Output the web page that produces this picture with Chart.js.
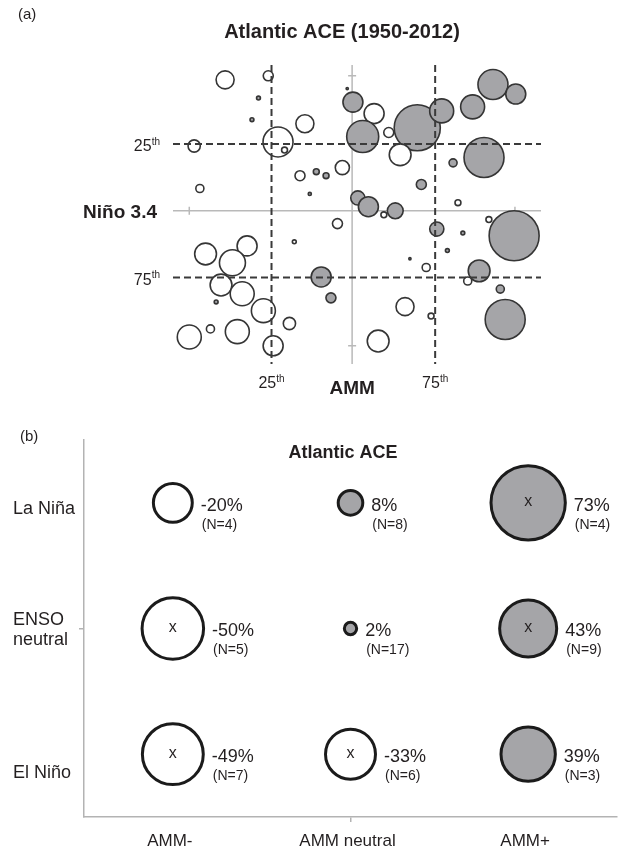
<!DOCTYPE html>
<html>
<head>
<meta charset="utf-8">
<script src="https://cdn.jsdelivr.net/npm/chart.js@4.4.1/dist/chart.umd.min.js"></script>
<style>
  html, body { margin:0; padding:0; background:#fff; }
  body { width:620px; height:853px; position:relative; overflow:hidden; }
  canvas { position:absolute; left:0; }
  #chartA { top:0; }
  #chartB { top:405px; }
</style>
</head>
<body>
<canvas id="chartA" width="620" height="405"></canvas>
<canvas id="chartB" width="620" height="448"></canvas>
<script>
// ============================================================
// (a) AMM vs Nino 3.4, one bubble per season 1950-2012
//     bubble area ~ ACE anomaly (%), grey = above normal
// ============================================================
const ammIdx  = [-1.56,-1.03,-1.15,-1.23,-0.58,-0.91,-0.83,-1.94,-0.64,-0.44,
                 -0.32,-0.12,-0.52,-1.87, 0.01, 0.27, 0.45, 0.13, 0.80, 0.59,
                  1.10, 1.48, 1.73, 2.01, 1.62, 1.24, 1.30, 0.39, 0.53, 0.07,
                  0.20, 0.85,-0.06, 1.68, 1.99, 1.04, 1.36, 1.17, 0.71, 0.91,
                  1.56, 1.42, 1.82, 1.88, 0.65, 0.97, 0.32,-0.18,-0.71,-1.29,
                 -1.80,-1.47,-1.61,-1.35,-0.38,-0.26,-1.67,-1.09,-0.77,-2.00,
                 -1.74,-1.41,-0.97];
const ninoIdx = [-1.94,-2.00,-1.67,-1.35,-1.29,-1.02,-0.90,-0.96,-0.52,-0.58,
                 -0.52,-0.64,-0.25,-0.33,-1.61,-1.44,-1.16,-1.10,-1.23,-0.83,
                 -1.48,-1.54,-1.87,-1.73,-0.79,-0.71,-0.12, 0.06, 0.00,-0.19,
                 -0.06,-0.39,-1.81, 0.13, 0.37, 0.27, 0.33, 0.59, 0.71, 0.84,
                  0.89, 1.04, 1.16, 1.61, 1.42, 1.56, 1.93, 0.19, 0.46, 0.52,
                  0.64, 0.77, 1.10, 1.23, 0.98, 1.29, 1.35, 1.48, 1.67, 1.87,
                  1.75, 1.79, 2.00];
const aceAnom = [-13,-4,0.6,0.6,-13,-36,-1.4,-6,-4,1.4,
                 1.4,-8,0.4,-2.6,16,-16,-4,41,85,-19,
                 23,23,36,16,64,2.6,-1.4,-1.4,10,8,
                 16,4,0.2,-1.4,100,8,0.6,0.6,0.2,-2.6,
                 19,-2.6,2.6,64,-13,-1.4,-19,-4,-0.6,-16,
                 -19,-27,-19,-23,16,4,0.6,-23,-6,-23,
                 -2.6,-23,-16];
const ammPct   = [-0.99, 1.02];     // 25th / 75th percentile of AMM
const ninoPct  = [-0.99, 0.99];     // 25th / 75th percentile of Nino 3.4
const pctNames = ['25', '75'];
const axisTicks = [-2, 2];

// ============================================================
// (b) composite ACE change (%) per AMM / ENSO class
// ============================================================
const ammCats   = ['AMM-', 'AMM neutral', 'AMM+'];
const ensoCats  = ['La Niña', 'ENSO\nneutral', 'El Niño'];
const aceLaNina  = [-20,   8, 73];
const aceNeutral = [-50,   2, 43];
const aceElNino  = [-49, -33, 39];
const nLaNina    = [4,  8, 4];
const nNeutral   = [5, 17, 9];
const nElNino    = [7,  6, 3];
const sigLaNina  = [false, false, true];
const sigNeutral = [true,  false, true];
const sigElNino  = [true,  true,  false];

const FONT = '"Liberation Sans", Arial, Helvetica, sans-serif';
const INK  = '#231f20';
const GREY = '#a5a5a8';

// ── (a) axis limits ───────────────────────────────────────
const xMinA = -2.2, xMaxA = 2.32;
const yMinA = -2.16, yMaxA = 2.27;

function supText(ctx, base, sup, px, py, align, size) {
  ctx.font = size + 'px ' + FONT;
  const w1 = ctx.measureText(base).width;
  ctx.font = Math.round(size * 0.62) + 'px ' + FONT;
  const w2 = ctx.measureText(sup).width;
  let left = px;
  if (align === 'center') left = px - (w1 + w2) / 2;
  if (align === 'right')  left = px - w1 - w2;
  ctx.textAlign = 'left';
  ctx.textBaseline = 'middle';
  ctx.font = size + 'px ' + FONT;
  ctx.fillText(base, left, py);
  ctx.font = Math.round(size * 0.62) + 'px ' + FONT;
  ctx.fillText(sup, left + w1, py - size * 0.32);
}

// grey zero lines with small cross ticks (under the bubbles)
const crossAxes = {
  id: 'crossAxes',
  beforeDatasetsDraw(chart) {
    const { ctx, chartArea: a, scales: { x, y } } = chart;
    const x0 = x.getPixelForValue(0), y0 = y.getPixelForValue(0);
    ctx.save();
    ctx.strokeStyle = '#b9b9b9';
    ctx.lineWidth = 1.5;
    ctx.beginPath();
    ctx.moveTo(a.left, y0); ctx.lineTo(a.right, y0);
    ctx.moveTo(x0, a.top);  ctx.lineTo(x0, a.bottom);
    axisTicks.forEach(t => {
      const px = x.getPixelForValue(t), py = y.getPixelForValue(t);
      ctx.moveTo(px, y0 - 4); ctx.lineTo(px, y0 + 4);
      ctx.moveTo(x0 - 4, py); ctx.lineTo(x0 + 4, py);
    });
    ctx.stroke();
    ctx.restore();
  }
};

const textA = {
  id: 'textA',
  afterDraw(chart) {
    const { ctx, chartArea: a, scales: { x, y } } = chart;
    ctx.save();
    ctx.fillStyle = INK;
    ctx.textAlign = 'left'; ctx.textBaseline = 'middle';
    ctx.font = '15px ' + FONT;
    ctx.fillText('(a)', 18, 15);
    ctx.textAlign = 'center';
    ctx.font = 'bold 20px ' + FONT;
    ctx.fillText('Atlantic ACE (1950-2012)', 342, 32);
    // bottom: AMM percentiles
    ammPct.forEach((v, i) => supText(ctx, pctNames[i], 'th', x.getPixelForValue(v), a.bottom + 20, 'center', 16));
    ctx.textAlign = 'center'; ctx.textBaseline = 'middle';
    ctx.font = 'bold 19px ' + FONT;
    ctx.fillText('AMM', x.getPixelForValue(0), a.bottom + 25);
    // left: Nino 3.4 percentiles
    ninoPct.forEach((v, i) => supText(ctx, pctNames[i], 'th', a.left - 13, y.getPixelForValue(v) + 3, 'right', 16));
    ctx.textAlign = 'right'; ctx.textBaseline = 'middle';
    ctx.font = 'bold 19px ' + FONT;
    ctx.fillText('Niño 3.4', a.left - 16, y.getPixelForValue(0) + 2);
    ctx.restore();
  }
};

const dashLine = (pts) => ({
  type: 'line', data: pts, order: 0,
  borderColor: '#3a3a3a', borderWidth: 2, borderDash: [7, 4],
  pointRadius: 0, fill: false, clip: false
});

new Chart(document.getElementById('chartA'), {
  type: 'bubble',
  data: {
    datasets: [
      {
        order: 1,
        data: ammIdx.map((v, i) => ({ x: v, y: ninoIdx[i], r: 2.5 * Math.sqrt(Math.abs(aceAnom[i])) })),
        backgroundColor: c => aceAnom[c.dataIndex] >= 0 ? GREY : '#ffffff',
        borderColor: '#353535',
        borderWidth: 1.6,
        clip: false
      },
      ...ammPct.map(v => dashLine([{ x: v, y: yMinA }, { x: v, y: yMaxA }])),
      ...ninoPct.map(v => dashLine([{ x: xMinA, y: v }, { x: xMaxA, y: v }]))
    ]
  },
  options: {
    responsive: false, animation: false, events: [],
    layout: { autoPadding: false, padding: { left: 173, right: 79, top: 65, bottom: 41 } },
    plugins: { legend: { display: false }, tooltip: { enabled: false } },
    scales: {
      x: { type: 'linear', display: false, min: xMinA, max: xMaxA },
      y: { type: 'linear', display: false, min: yMinA, max: yMaxA, reverse: true }
    }
  },
  plugins: [crossAxes, textA]
});

// ── (b) composite bubbles ─────────────────────────────────
const rowsAce = [aceLaNina, aceNeutral, aceElNino];
const rowsN   = [nLaNina, nNeutral, nElNino];
const rowsSig = [sigLaNina, sigNeutral, sigElNino];
const cells = [];
rowsAce.forEach((row, ri) => row.forEach((p, ci) => {
  cells.push({ x: ci + 1, y: 3 - ri, pct: p, n: rowsN[ri][ci], sig: rowsSig[ri][ci] });
}));
const rowLabelShift = [6, 2, 19];

const textB = {
  id: 'textB',
  afterDatasetsDraw(chart) {
    const { ctx } = chart;
    const meta = chart.getDatasetMeta(0);
    ctx.save();
    ctx.fillStyle = INK;
    meta.data.forEach((pt, i) => {
      const c = cells[i];
      const edge = pt.x + pt.options.radius + 1.5;
      ctx.textBaseline = 'middle';
      if (c.sig) {
        ctx.textAlign = 'center';
        ctx.font = '16px ' + FONT;
        ctx.fillText('x', pt.x, pt.y - 1);
      }
      ctx.textAlign = 'left';
      ctx.font = '18px ' + FONT;
      ctx.fillText(c.pct + '%', edge + 7, pt.y + 3);
      ctx.font = '14px ' + FONT;
      ctx.fillText('(N=' + c.n + ')', edge + 8, pt.y + 22);
    });
    ctx.restore();
  },
  afterDraw(chart) {
    const { ctx, chartArea: a, scales: { x, y } } = chart;
    ctx.save();
    ctx.fillStyle = INK;
    ctx.textBaseline = 'middle';
    ctx.textAlign = 'left';
    ctx.font = '15px ' + FONT;
    ctx.fillText('(b)', 20, 32);
    ctx.textAlign = 'center';
    ctx.font = 'bold 18px ' + FONT;
    ctx.fillText('Atlantic ACE', 343, 48);
    ctx.font = '17px ' + FONT;
    ammCats.forEach((t, i) => ctx.fillText(t, x.getPixelForValue(i + 1) - 3, a.bottom + 24));
    ctx.textAlign = 'left';
    ctx.font = '18px ' + FONT;
    ensoCats.forEach((t, i) => {
      const lines = t.split('\n');
      const yc = y.getPixelForValue(3 - i) + rowLabelShift[i];
      lines.forEach((ln, k) => ctx.fillText(ln, 13, yc + (k - (lines.length - 1) / 2) * 20));
    });
    ctx.restore();
  }
};

new Chart(document.getElementById('chartB'), {
  type: 'bubble',
  data: {
    datasets: [{
      data: cells.map(c => ({ x: c.x, y: c.y, r: 4.35 * Math.sqrt(Math.abs(c.pct)) })),
      backgroundColor: ctx => cells[ctx.dataIndex].pct >= 0 ? GREY : '#ffffff',
      borderColor: '#1b1b1b',
      borderWidth: 3,
      clip: false
    }]
  },
  options: {
    responsive: false, animation: false, events: [],
    layout: { autoPadding: false, padding: { left: 79, right: 3, top: 35, bottom: 31 } },
    plugins: { legend: { display: false }, tooltip: { enabled: false } },
    scales: {
      x: {
        type: 'linear', min: 0.5, max: 3.5,
        afterBuildTicks: s => { s.ticks = [{ value: 2 }]; },
        ticks: { display: false },
        grid: { drawOnChartArea: false, tickLength: 5, color: '#b3b3b3', lineWidth: 1.5 },
        border: { color: '#b3b3b3', width: 1.5 }
      },
      y: {
        type: 'linear', min: 0.5, max: 3.5,
        afterBuildTicks: s => { s.ticks = [{ value: 2 }]; },
        ticks: { display: false },
        grid: { drawOnChartArea: false, tickLength: 5, color: '#b3b3b3', lineWidth: 1.5 },
        border: { color: '#b3b3b3', width: 1.5 }
      }
    }
  },
  plugins: [textB]
});
</script>
</body>
</html>
